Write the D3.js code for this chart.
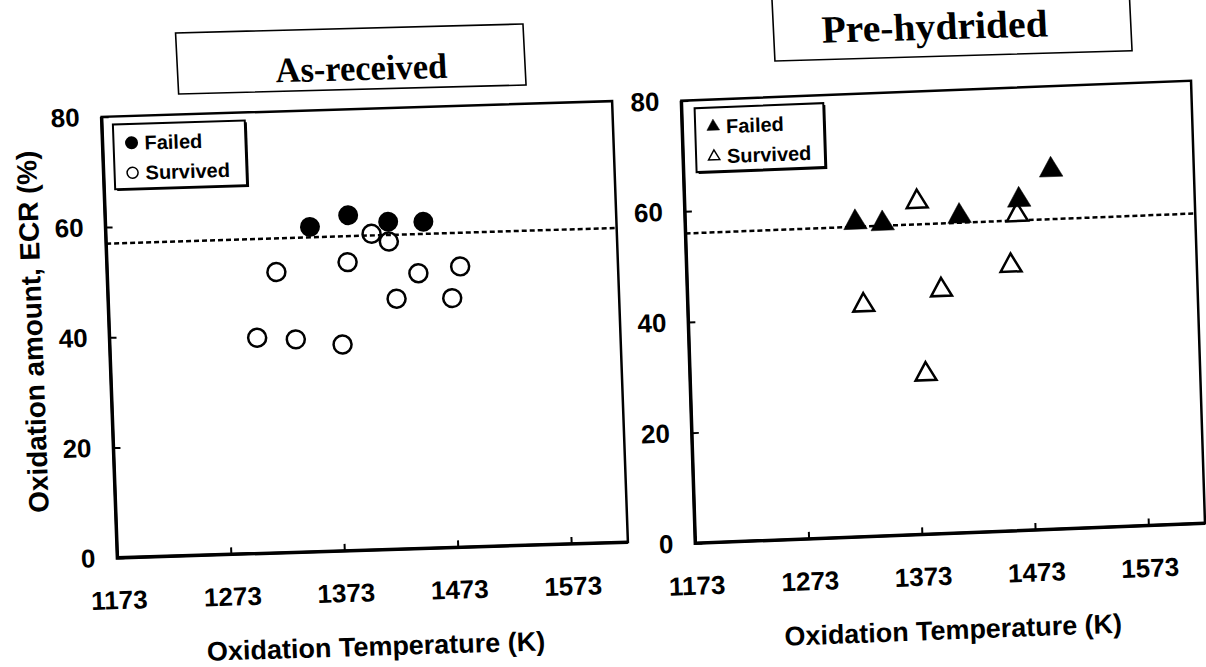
<!DOCTYPE html>
<html>
<head>
<meta charset="utf-8">
<script src="https://cdn.jsdelivr.net/npm/d3@7"></script>
<style>
  body { margin: 0; background: #fff; }
  svg { display: block; }
</style>
</head>
<body>
<div id="chart"></div>
<script>
// ECR at failure / survival vs oxidation temperature, two cladding conditions

var xTicks = [1173, 1273, 1373, 1473, 1573];
var yTicks = [0, 20, 40, 60, 80];

// As-received (circles)
var arFailedT = [1353, 1387, 1422, 1453];
var arFailedECR = [58.9, 60.8, 59.4, 59.2];
var arSurvivedT = [1407, 1422, 1322, 1385, 1447, 1484, 1427, 1476, 1303, 1337, 1378];
var arSurvivedECR = [57.3, 55.8, 50.9, 52.3, 49.9, 50.9, 45.4, 45.2, 39.1, 38.6, 37.4];
var arLimit = 57;

// Pre-hydrided (triangles)
var phFailedT = [1323, 1347, 1415, 1468, 1497];
var phFailedECR = [56.8, 56.4, 57.2, 59.7, 64.9];
var phSurvivedT = [1378, 1466, 1459, 1397, 1328, 1381];
var phSurvivedECR = [60.1, 57.0, 47.9, 44.0, 41.8, 28.9];
var phLimit = 56;

var width = 1206;
var height = 667;
var FONT = "'Liberation Sans', Arial, Helvetica, sans-serif";
var SERIF = "'Liberation Serif', 'Times New Roman', serif";

var svg = d3.select('#chart')
    .append('svg')
    .attr("width", width)
    .attr("height", height)
    .style("background", "#fff");

// the scan is slightly tilted: map a plain w x h box onto the measured corners
function frameMatrix(c, w, h) {
  var ux = ((c.tr[0] - c.tl[0]) + (c.br[0] - c.bl[0])) / 2 / w;
  var uy = ((c.tr[1] - c.tl[1]) + (c.br[1] - c.bl[1])) / 2 / w;
  var vx = ((c.bl[0] - c.tl[0]) + (c.br[0] - c.tr[0])) / 2 / h;
  var vy = ((c.bl[1] - c.tl[1]) + (c.br[1] - c.tr[1])) / 2 / h;
  var cx = (c.tl[0] + c.tr[0] + c.bl[0] + c.br[0]) / 4;
  var cy = (c.tl[1] + c.tr[1] + c.bl[1] + c.br[1]) / 4;
  var e = cx - ux * w / 2 - vx * h / 2;
  var f = cy - uy * w / 2 - vy * h / 2;
  return "matrix(" + [ux, uy, vx, vy, e, f].join(",") + ")";
}

function zip(a, b) {
  return a.map(function (v, i) { return [v, b[i]]; });
}

var W = 511, H = 443;
var x = d3.scaleLinear().domain([1173, 1623]).range([0, W]);
var y = d3.scaleLinear().domain([0, 80]).range([H, 0]);

function mark(g, shape, filled, big) {
  if (shape === "circle") {
    g.append("circle")
      .attr("r", big ? (filled ? 10 : 9) : (filled ? 6.5 : 5.5))
      .attr("fill", filled ? "#000" : "none")
      .attr("stroke", "#000")
      .attr("stroke-width", filled ? 0 : (big ? 2.5 : 1.5));
  } else {
    var size = big ? (filled ? 240 : 190) : (filled ? 70 : 55);
    g.append("path")
      .attr("d", d3.symbol(d3.symbolTriangle, size)())
      .attr("fill", filled ? "#000" : "#fff")
      .attr("stroke", "#000")
      .attr("stroke-width", filled ? 0.5 : (big ? 2.5 : 1.5))
      .attr("stroke-linejoin", "miter");
  }
}

var panels = [
  {
    corners: {tl: [101.7, 115.7], tr: [612, 102.3], bl: [117.3, 559], br: [628, 541]},
    failed: zip(arFailedT, arFailedECR),
    survived: zip(arSurvivedT, arSurvivedECR),
    limit: arLimit,
    shape: "circle",
    yTitle: true,
    legend: {x: 11, y: 8, w: 132, h: 65}
  },
  {
    corners: {tl: [680.7, 100.7], tr: [1191.7, 80.7], bl: [696, 543.3], br: [1204.3, 523.3]},
    failed: zip(phFailedT, phFailedECR),
    survived: zip(phSurvivedT, phSurvivedECR),
    limit: phLimit,
    shape: "triangle",
    yTitle: false,
    legend: {x: 13, y: 8, w: 129, h: 64}
  }
];

panels.forEach(function (p) {
  var g = svg.append("g").attr("transform", frameMatrix(p.corners, W, H));

  /***** Axes *****/
  var xAxis = d3.axisBottom(x).tickValues(xTicks).tickFormat(d3.format("d"))
      .tickSize(-7).tickSizeOuter(0).tickPadding(33);
  var xg = g.append("g").attr("transform", "translate(0," + H + ")").call(xAxis);
  var yAxis = d3.axisLeft(y).tickValues(yTicks).tickFormat(d3.format("d"))
      .tickSize(-7).tickSizeOuter(0).tickPadding(22);
  var yg = g.append("g").call(yAxis);
  [xg, yg].forEach(function (ag) {
    ag.select(".domain").remove();
    ag.selectAll(".tick line").attr("stroke", "#000").attr("stroke-width", 2);
    ag.selectAll(".tick text")
      .attr("fill", "#000")
      .style("font-family", FONT)
      .style("font-weight", "bold")
      .style("font-size", "26px");
  });

  // frame
  g.append("rect").attr("width", W).attr("height", H)
    .attr("fill", "none").attr("stroke", "#000").attr("stroke-width", 2.5);
  g.append("path").attr("d", "M0,0V" + H + "H" + W)
    .attr("fill", "none").attr("stroke", "#000").attr("stroke-width", 3.5);

  g.append("text")
    .attr("x", W / 2).attr("y", H + 106)
    .attr("text-anchor", "middle")
    .style("font-family", FONT).style("font-weight", "bold").style("font-size", "27px")
    .text("Oxidation Temperature (K)");

  if (p.yTitle) {
    g.append("text")
      .attr("transform", "translate(-67," + (H / 2 - 8) + ") rotate(-90)")
      .attr("text-anchor", "middle")
      .style("font-family", FONT).style("font-weight", "bold").style("font-size", "28px")
      .text("Oxidation amount, ECR (%)");
  }

  /***** Threshold line *****/
  g.append("line")
    .attr("x1", x(1173)).attr("x2", x(1623))
    .attr("y1", y(p.limit)).attr("y2", y(p.limit))
    .attr("stroke", "#000").attr("stroke-width", 2.5)
    .attr("stroke-dasharray", "5,3");

  /***** Points *****/
  g.append("g").selectAll("g").data(p.survived).join("g")
    .attr("transform", function (d) { return "translate(" + x(d[0]) + "," + y(d[1]) + ")"; })
    .each(function () { mark(d3.select(this), p.shape, false, true); });
  g.append("g").selectAll("g").data(p.failed).join("g")
    .attr("transform", function (d) { return "translate(" + x(d[0]) + "," + y(d[1]) + ")"; })
    .each(function () { mark(d3.select(this), p.shape, true, true); });

  /***** Legend *****/
  var L = p.legend;
  var lg = g.append("g").attr("transform", "translate(" + L.x + "," + L.y + ")");
  lg.append("rect").attr("x", 2).attr("y", 2).attr("width", L.w).attr("height", L.h).attr("fill", "#000");
  lg.append("rect").attr("width", L.w).attr("height", L.h)
    .attr("fill", "#fff").attr("stroke", "#000").attr("stroke-width", 2);
  [["Failed", true, 19], ["Survived", false, 49]].forEach(function (row) {
    var mg = lg.append("g").attr("transform", "translate(18," + row[2] + ")");
    mark(mg, p.shape, row[1], false);
    lg.append("text")
      .attr("x", 31).attr("y", row[2]).attr("dy", "0.36em")
      .style("font-family", FONT).style("font-weight", "bold").style("font-size", "20px")
      .text(row[0]);
  });
});

/***** Title boxes *****/
var titles = [
  {text: "As-received", corners: {tl: [175.5, 34], tr: [523, 23], bl: [178.7, 93], br: [526, 86]},
   w: 348, h: 60, tx: 184, ty: 51, size: 35, len: 172},
  {text: "Pre-hydrided", corners: {tl: [771.8, -4], tr: [1129, -13], bl: [775, 61.7], br: [1132, 50]},
   w: 357, h: 65, tx: 161, ty: 48, size: 39, len: 226}
];
titles.forEach(function (t) {
  var tg = svg.append("g").attr("transform", frameMatrix(t.corners, t.w, t.h));
  tg.append("rect").attr("width", t.w).attr("height", t.h)
    .attr("fill", "#fff").attr("stroke", "#000").attr("stroke-width", 1.6);
  tg.append("text")
    .attr("x", t.tx).attr("y", t.ty)
    .attr("text-anchor", "middle")
    .attr("textLength", t.len).attr("lengthAdjust", "spacingAndGlyphs")
    .style("font-family", SERIF).style("font-weight", "bold").style("font-size", t.size + "px")
    .text(t.text);
});
</script>
</body>
</html>
